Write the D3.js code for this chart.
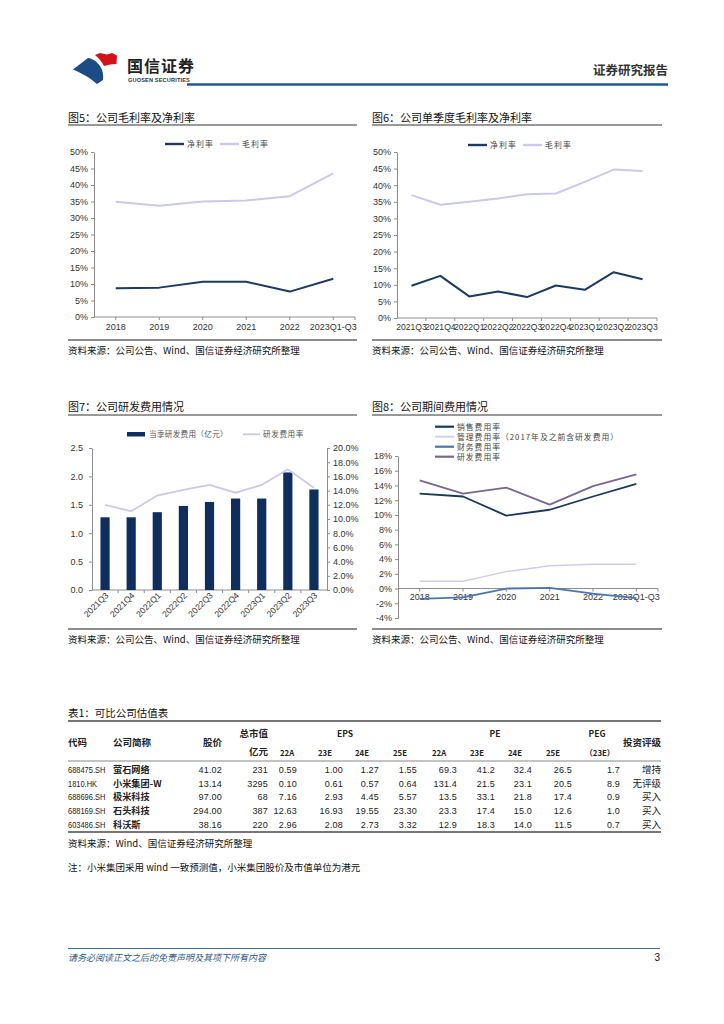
<!DOCTYPE html>
<html>
<head>
<meta charset="utf-8">
<script src="https://cdnjs.cloudflare.com/ajax/libs/d3/7.8.5/d3.min.js"></script>
<style>
body{margin:0;background:#fff}
svg{display:block}
</style>
</head>
<body>
<svg id="page" width="724" height="1024"></svg>
<script>
// ---- data ----
const years = ['2018', '2019', '2020', '2021', '2022', '2023Q1-Q3'];
const quarters = ['2021Q3', '2021Q4', '2022Q1', '2022Q2', '2022Q3', '2022Q4', '2023Q1', '2023Q2', '2023Q3'];

const netMarginYear = [8.7, 8.9, 10.7, 10.7, 7.7, 11.6];
const grossMarginYear = [34.9, 33.7, 35.0, 35.3, 36.6, 43.5];

const netMarginQ = [9.7, 12.7, 6.5, 8.0, 6.3, 9.8, 8.5, 13.8, 11.7];
const grossMarginQ = [37.0, 34.1, 35.0, 36.0, 37.3, 37.5, 41.0, 44.7, 44.3];

const rdExpenseQ = [1.28, 1.28, 1.37, 1.48, 1.55, 1.61, 1.61, 2.07, 1.77];
const rdRateQ = [12.0, 11.1, 13.3, 14.1, 14.8, 13.7, 14.8, 17.0, 14.4];

const salesRate = [12.9, 12.5, 9.9, 10.7, 12.5, 14.2];
const adminRate = [1.0, 1.0, 2.3, 3.1, 3.3, 3.3];
const finRate = [-1.4, -1.2, 0.0, 0.1, -0.7, -1.3];
const rdRateYear = [14.7, 12.9, 13.7, 11.4, 13.9, 15.5];

const codes = ['688475.SH', '1810.HK', '688696.SH', '688169.SH', '603486.SH'];
const names = ['萤石网络', '小米集团-W', '极米科技', '石头科技', '科沃斯'];
const prices = ['41.02', '13.14', '97.00', '294.00', '38.16'];
const marketCap = ['231', '3295', '68', '387', '220'];
const eps22A = ['0.59', '0.10', '7.16', '12.63', '2.96'];
const eps23E = ['1.00', '0.61', '2.93', '16.93', '2.08'];
const eps24E = ['1.27', '0.57', '4.45', '19.55', '2.73'];
const eps25E = ['1.55', '0.64', '5.57', '23.30', '3.32'];
const pe22A = ['69.3', '131.4', '13.5', '23.3', '12.9'];
const pe23E = ['41.2', '21.5', '33.1', '17.4', '18.3'];
const pe24E = ['32.4', '23.1', '21.8', '15.0', '14.0'];
const pe25E = ['26.5', '20.5', '17.4', '12.6', '11.5'];
const peg23E = ['1.7', '8.9', '0.9', '1.0', '0.7'];
const ratings = ['增持', '无评级', '买入', '买入', '买入'];

// ---- styling ----
const CJK = '"Noto Sans CJK SC", sans-serif';
const LAT = '"Liberation Sans", Arial, sans-serif';
const NAVY = '#1b3a63';
const LAVENDER = '#c9c9ee';
const AXIS = '#8c8c8c';

const svg = d3.select('#page');
svg.append('rect').attr('width', 724).attr('height', 1024).attr('fill', '#fff');

drawHeader();
drawFooter();

// Figure 5
panelFrame(68, 357, '图5：公司毛利率及净利率', 121.5, 125, 340, 353.5);
lineChart({
	x0: 94, x1: 355, yTop: 152, yBot: 317, cats: years,
	min: 0, max: 50, step: 5, fmt: d => d + '%',
	xTicks: 'center', labelY: 330, labelSize: 9,
	series: [
		{name: '净利率', values: netMarginYear, color: NAVY, width: 2},
		{name: '毛利率', values: grossMarginYear, color: LAVENDER, width: 2}
	],
	legend: {x: 165, y: 144, gap: 55}
});

// Figure 6
panelFrame(372, 662, '图6：公司单季度毛利率及净利率', 121.5, 125, 340, 353.5);
lineChart({
	x0: 397, x1: 657, yTop: 152, yBot: 318, cats: quarters,
	min: 0, max: 50, step: 5, fmt: d => d + '%',
	xTicks: 'between', labelY: 330, labelSize: 8.6,
	series: [
		{name: '净利率', values: netMarginQ, color: NAVY, width: 2},
		{name: '毛利率', values: grossMarginQ, color: LAVENDER, width: 2}
	],
	legend: {x: 468, y: 145, gap: 55}
});

// Figure 7
panelFrame(68, 357, '图7：公司研发费用情况', 410.5, 415, 629, 642.5);
barLineChart();

// Figure 8
panelFrame(372, 662, '图8：公司期间费用情况', 410.5, 415, 629, 642.5);
lineChart({
	x0: 398, x1: 658, yTop: 456, yBot: 618, cats: years,
	min: -4, max: 18, step: 2, fmt: d => d + '%',
	xTicks: 'center', labelY: 600, labelSize: 9,
	series: [
		{name: '销售费用率', values: salesRate, color: '#17375e', width: 1.8},
		{name: '管理费用率（2017年及之前含研发费用）', values: adminRate, color: '#cdcdf0', width: 1.5},
		{name: '财务费用率', values: finRate, color: '#4a76b0', width: 1.8},
		{name: '研发费用率', values: rdRateYear, color: '#7a6597', width: 1.8}
	],
	legend: {x: 435, y: 426.7, vertical: 10}
});

drawTable();

// ---------------------------------------------------------------

function panelFrame(xa, xb, title, titleY, ruleY, srcRuleY, srcY){
	svg.append('text').attr('x', xa).attr('y', titleY)
		.attr('font-family', CJK).attr('font-size', 11).attr('fill', '#111')
		.text(title);
	svg.append('line').attr('x1', xa).attr('x2', xb).attr('y1', ruleY).attr('y2', ruleY)
		.attr('stroke', '#333').attr('stroke-width', 1);
	svg.append('line').attr('x1', xa).attr('x2', xb).attr('y1', srcRuleY).attr('y2', srcRuleY)
		.attr('stroke', '#666').attr('stroke-width', 1.3);
	svg.append('text').attr('x', xa).attr('y', srcY)
		.attr('font-family', CJK).attr('font-size', 9.5).attr('fill', '#111')
		.text('资料来源：公司公告、Wind、国信证券经济研究所整理');
}

function styleAxis(g, size){
	g.select('.domain').attr('stroke', AXIS);
	g.selectAll('.tick line').attr('stroke', AXIS);
	g.selectAll('.tick text').attr('fill', '#333')
		.attr('font-family', LAT).attr('font-size', size);
}

function lineChart(c){
	const x = d3.scaleBand().domain(c.cats).range([c.x0, c.x1]);
	const y = d3.scaleLinear().domain([c.min, c.max]).range([c.yBot, c.yTop]);
	const g = svg.append('g');

	const yAxis = g.append('g').attr('transform', `translate(${c.x0},0)`)
		.call(d3.axisLeft(y).tickValues(d3.range(c.min, c.max + c.step / 2, c.step))
			.tickFormat(c.fmt).tickSize(3).tickSizeOuter(0).tickPadding(3));
	styleAxis(yAxis, 9);

	// x axis line sits on the zero line
	const y0 = y(0);
	g.append('line').attr('x1', c.x0).attr('x2', c.x1).attr('y1', y0).attr('y2', y0)
		.attr('stroke', AXIS);
	const tickPos = c.xTicks === 'between'
		? c.cats.map(d => x(d) + x.step())
		: c.cats.map(d => x(d) + x.bandwidth() / 2).concat([c.x1]);
	g.selectAll('.xt').data(tickPos).join('line')
		.attr('x1', d => d).attr('x2', d => d).attr('y1', y0).attr('y2', y0 + 3)
		.attr('stroke', AXIS);
	g.selectAll('.xl').data(c.cats).join('text')
		.attr('x', d => x(d) + x.bandwidth() / 2).attr('y', c.labelY)
		.attr('text-anchor', 'middle').attr('font-family', LAT)
		.attr('font-size', c.labelSize).attr('fill', '#333')
		.text(d => d);

	const line = d3.line()
		.x((d, i) => x(c.cats[i]) + x.bandwidth() / 2)
		.y(d => y(d));
	c.series.forEach(s => {
		g.append('path').attr('d', line(s.values))
			.attr('fill', 'none').attr('stroke', s.color)
			.attr('stroke-width', s.width).attr('stroke-linejoin', 'round');
	});

	// legend
	c.series.forEach((s, i) => {
		const lx = c.legend.vertical ? c.legend.x : c.legend.x + i * c.legend.gap;
		const ly = c.legend.vertical ? c.legend.y + i * c.legend.vertical : c.legend.y;
		g.append('line').attr('x1', lx).attr('x2', lx + 19).attr('y1', ly).attr('y2', ly)
			.attr('stroke', s.color).attr('stroke-width', s.width + 0.4);
		g.append('text').attr('x', lx + 22).attr('y', ly + 2.8)
			.attr('font-family', CJK).attr('font-size', 7.8).attr('fill', '#444')
			.attr('letter-spacing', c.legend.vertical ? 1 : 1.2)
			.text(s.name);
	});
}

function barLineChart(){
	const x0 = 92, x1 = 327, yTop = 448, yBot = 590;
	const xs = d3.scaleBand().domain(quarters).range([x0, x1]);
	const yL = d3.scaleLinear().domain([0, 2.5]).range([yBot, yTop]);
	const yR = d3.scaleLinear().domain([0, 20]).range([yBot, yTop]);
	const g = svg.append('g');

	const la = g.append('g').attr('transform', `translate(${x0},0)`)
		.call(d3.axisLeft(yL).tickValues(d3.range(0, 2.51, 0.5)).tickFormat(d3.format('.1f'))
			.tickSize(3).tickSizeOuter(0).tickPadding(6));
	styleAxis(la, 9);
	const ra = g.append('g').attr('transform', `translate(${x1},0)`)
		.call(d3.axisRight(yR).tickValues(d3.range(0, 20.1, 2)).tickFormat(d => d.toFixed(1) + '%')
			.tickSize(3).tickSizeOuter(0).tickPadding(3));
	styleAxis(ra, 9);

	g.append('line').attr('x1', x0).attr('x2', x1).attr('y1', yBot).attr('y2', yBot).attr('stroke', AXIS);
	g.selectAll('.xt').data(quarters.slice(0, -1)).join('line')
		.attr('x1', d => xs(d) + xs.step()).attr('x2', d => xs(d) + xs.step())
		.attr('y1', yBot).attr('y2', yBot + 3).attr('stroke', AXIS);

	g.selectAll('.bar').data(rdExpenseQ).join('rect')
		.attr('x', (d, i) => xs(quarters[i]) + xs.bandwidth() / 2 - 4.6)
		.attr('width', 9.2)
		.attr('y', d => yL(d)).attr('height', d => yBot - yL(d))
		.attr('fill', '#0e2e5e');

	const line = d3.line()
		.x((d, i) => xs(quarters[i]) + xs.bandwidth() / 2)
		.y(d => yR(d));
	g.append('path').attr('d', line(rdRateQ)).attr('fill', 'none')
		.attr('stroke', LAVENDER).attr('stroke-width', 1.8);

	g.selectAll('.xl').data(quarters).join('text')
		.attr('transform', d => `translate(${xs(d) + xs.bandwidth() / 2 + 4},${yBot + 6}) rotate(-45)`)
		.attr('text-anchor', 'end').attr('font-family', LAT).attr('font-size', 8.6)
		.attr('fill', '#333').text(d => d);

	// legend
	g.append('rect').attr('x', 127).attr('y', 432).attr('width', 18).attr('height', 4.5).attr('fill', '#0e2e5e');
	g.append('text').attr('x', 149).attr('y', 437).attr('font-family', CJK).attr('font-size', 7.6)
		.attr('fill', '#555').attr('letter-spacing', 0.3).text('当季研发费用（亿元）');
	g.append('line').attr('x1', 243).attr('x2', 260).attr('y1', 434.3).attr('y2', 434.3)
		.attr('stroke', LAVENDER).attr('stroke-width', 1.8);
	g.append('text').attr('x', 263).attr('y', 437).attr('font-family', CJK).attr('font-size', 7.6)
		.attr('fill', '#555').attr('letter-spacing', 0.6).text('研发费用率');
}

function drawHeader(){
	// logo
	svg.append('path')
		.attr('d', 'M95,55 L100,53 L107,54.5 L112,53 L117,55.5 L116.5,64 L110,64.5 L104,66 C102,62 99,58 95,55 Z')
		.attr('fill', '#d3121c');
	svg.append('path')
		.attr('d', 'M73,69.5 L88,58 C93,58.5 97,62 100,66 C103,70 103.5,75 103,80 L97,84 L90,78.5 C85,75 79,72 73,69.5 Z')
		.attr('fill', '#1d4b86');
	svg.append('text').attr('x', 127).attr('y', 71.5).attr('font-family', CJK)
		.attr('font-size', 16).attr('font-weight', 700).attr('fill', '#222').attr('letter-spacing', 1)
		.text('国信证券');
	svg.append('text').attr('x', 128).attr('y', 81.5).attr('font-family', LAT)
		.attr('font-size', 5.6).attr('font-weight', 700).attr('fill', '#333').attr('letter-spacing', 0.15)
		.text('GUOSEN SECURITIES');
	svg.append('line').attr('x1', 187).attr('x2', 668).attr('y1', 84.5).attr('y2', 84.5)
		.attr('stroke', '#1f5a96').attr('stroke-width', 2.4);
	svg.append('text').attr('x', 668).attr('y', 75).attr('text-anchor', 'end').attr('font-family', CJK)
		.attr('font-size', 12.5).attr('font-weight', 700).attr('fill', '#333')
		.text('证券研究报告');
}

function drawFooter(){
	svg.append('line').attr('x1', 68).attr('x2', 660).attr('y1', 948.5).attr('y2', 948.5)
		.attr('stroke', '#3d6e9e').attr('stroke-width', 1);
	svg.append('text').attr('x', 68).attr('y', 960.5).attr('font-family', CJK)
		.attr('font-size', 9).attr('font-style', 'italic').attr('fill', '#2d5a8a')
		.text('请务必阅读正文之后的免责声明及其项下所有内容');
	svg.append('text').attr('x', 660).attr('y', 961).attr('text-anchor', 'end').attr('font-family', LAT)
		.attr('font-size', 10).attr('fill', '#111').text('3');
}

function drawTable(){
	const g = svg.append('g');
	g.append('text').attr('x', 68).attr('y', 717).attr('font-family', CJK).attr('font-size', 10.5)
		.attr('fill', '#111').text('表1：可比公司估值表');

	g.append('line').attr('x1', 68).attr('x2', 661).attr('y1', 721).attr('y2', 721)
		.attr('stroke', '#777').attr('stroke-width', 2);
	g.append('line').attr('x1', 68).attr('x2', 661).attr('y1', 761).attr('y2', 761)
		.attr('stroke', '#888').attr('stroke-width', 1.2);
	g.append('line').attr('x1', 68).attr('x2', 661).attr('y1', 832).attr('y2', 832)
		.attr('stroke', '#777').attr('stroke-width', 2);

	const head = (x, y, t, anchor, size) => g.append('text').attr('x', x).attr('y', y)
		.attr('text-anchor', anchor || 'start').attr('font-family', CJK)
		.attr('font-size', size || 9.5).attr('font-weight', 700).attr('fill', '#222').text(t);
	head(68, 746, '代码');
	head(113, 746, '公司简称');
	head(222, 746, '股价', 'end');
	head(268, 737, '总市值', 'end');
	head(268, 755, '亿元', 'end');
	head(345, 737, 'EPS', 'middle', 8.5);
	head(495, 737, 'PE', 'middle', 8.5);
	head(597, 737, 'PEG', 'middle', 8.5);
	head(661, 746, '投资评级', 'end');
	const sub = [['22A', 280], ['23E', 318], ['24E', 355], ['25E', 393],
		['22A', 432], ['23E', 470], ['24E', 508], ['25E', 546], ['（23E）', 585]];
	sub.forEach(([t, x]) => head(x, 756, t, 'start', 7.8));

	const rowY = d3.scaleBand().domain(codes).range([763, 831]);
	const numCols = [
		{vals: prices, right: 222}, {vals: marketCap, right: 268},
		{vals: eps22A, right: 297}, {vals: eps23E, right: 343}, {vals: eps24E, right: 379}, {vals: eps25E, right: 417},
		{vals: pe22A, right: 457}, {vals: pe23E, right: 495}, {vals: pe24E, right: 532}, {vals: pe25E, right: 572},
		{vals: peg23E, right: 620}
	];
	codes.forEach((code, i) => {
		const yy = rowY(code) + rowY.bandwidth() / 2 + 3.4;
		g.append('text').attr('x', 68).attr('y', yy).attr('font-family', LAT).attr('font-size', 9)
			.attr('fill', '#222').attr('textLength', code.length * 4.15)
			.attr('lengthAdjust', 'spacingAndGlyphs').text(code);
		g.append('text').attr('x', 113).attr('y', yy).attr('font-family', CJK).attr('font-size', 9.2)
			.attr('font-weight', 700).attr('fill', '#222').text(names[i]);
		numCols.forEach(col => {
			g.append('text').attr('x', col.right).attr('y', yy).attr('text-anchor', 'end')
				.attr('font-family', LAT).attr('font-size', 9).attr('fill', '#222')
				.attr('letter-spacing', 0.2).text(col.vals[i]);
		});
		g.append('text').attr('x', 661).attr('y', yy).attr('text-anchor', 'end').attr('font-family', CJK)
			.attr('font-size', 9.5).attr('fill', '#222').text(ratings[i]);
	});

	g.append('text').attr('x', 68).attr('y', 846.5).attr('font-family', CJK).attr('font-size', 9.5)
		.attr('fill', '#111').text('资料来源：Wind、国信证券经济研究所整理');
	g.append('text').attr('x', 68).attr('y', 870.5).attr('font-family', CJK).attr('font-size', 9.5)
		.attr('fill', '#111').text('注：小米集团采用 wind 一致预测值，小米集团股价及市值单位为港元');
}
</script>
</body>
</html>
